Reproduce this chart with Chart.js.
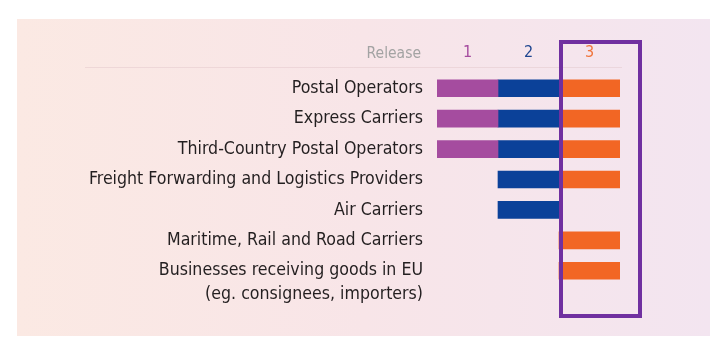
<!DOCTYPE html>
<html>
<head>
<meta charset="utf-8">
<script src="https://cdn.jsdelivr.net/npm/chart.js@4"></script>
<style>
  html, body { margin: 0; padding: 0; background: #fff; }
  #wrap { width: 723px; height: 348px; position: relative; }
</style>
</head>
<body>
<div id="wrap"><canvas id="chart"></canvas></div>
<script>
// categories (the empty first line keeps the first text line level with its bar)
const categories = [
  'Postal Operators',
  'Express Carriers',
  'Third-Country Postal Operators',
  'Freight Forwarding and Logistics Providers',
  'Air Carriers',
  'Maritime, Rail and Road Carriers',
  ['', 'Businesses receiving goods in EU', '(eg. consignees, importers)']
];

// release header labels
const releaseLabels = ['1', '2', '3'];

// 1 = stakeholder is part of that release
const release1 = [1, 1, 1, 0, 0, 0, 0];
const release2 = [1, 1, 1, 1, 1, 0, 0];
const release3 = [1, 1, 1, 1, 0, 1, 1];

const barColors = ['#a54c9f', '#0b4199', '#f26624'];
const headColors = ['#a54c9f', '#1f4690', '#f0743c'];
const FONT = '"Liberation Sans Narrow", "DejaVu Sans Condensed", sans-serif';

// each release occupies one unit on the x axis: release i spans [i, i+1]
const toSpans = (flags, i) => flags.map(v => (v ? [i, i + 1] : null));

const decorPlugin = {
  id: 'decor',
  beforeDraw(chart) {
    const { ctx, chartArea } = chart;
    ctx.save();
    ctx.fillStyle = '#ffffff';
    ctx.fillRect(0, 0, chart.width, chart.height);
    const g = ctx.createLinearGradient(17, 0, 710, 0);
    g.addColorStop(0, '#fbe9e3');
    g.addColorStop(0.5, '#f8e5e8');
    g.addColorStop(1, '#f3e5f0');
    ctx.fillStyle = g;
    ctx.fillRect(17, 19, 693, 317);
    // faint header rule
    ctx.strokeStyle = 'rgba(225, 195, 200, 0.45)';
    ctx.lineWidth = 1;
    ctx.beginPath();
    ctx.moveTo(85, chartArea.top - 5.5);
    ctx.lineTo(chartArea.right + 2, chartArea.top - 5.5);
    ctx.stroke();
    // "Release" header text
    ctx.fillStyle = '#a3a3a3';
    ctx.font = '15.5px ' + FONT;
    ctx.textAlign = 'right';
    ctx.textBaseline = 'middle';
    ctx.fillText('Release', chartArea.left - 16, chartArea.top - 19.5);
    ctx.restore();
  },
  afterDraw(chart) {
    const { ctx, chartArea } = chart;
    const x = chart.scales.x;
    ctx.save();
    ctx.strokeStyle = '#7030a0';
    ctx.lineWidth = 4;
    const left = x.getPixelForValue(2) + 2;
    const right = chartArea.right + 20;
    ctx.strokeRect(left, 42, right - left, 274);
    ctx.restore();
  }
};

new Chart(document.getElementById('chart').getContext('2d'), {
  type: 'bar',
  data: {
    labels: categories,
    datasets: [release1, release2, release3].map((flags, i) => ({
      label: 'Release ' + releaseLabels[i],
      data: toSpans(flags, i),
      backgroundColor: barColors[i],
      borderWidth: 0,
      borderSkipped: false,
      grouped: false,
      barThickness: 17
    }))
  },
  options: {
    responsive: true,
    maintainAspectRatio: false,
    animation: false,
    indexAxis: 'y',
    layout: { padding: { left: 0, right: 103, top: 0, bottom: 62 } },
    plugins: {
      legend: { display: false },
      tooltip: { enabled: false },
      title: { display: false }
    },
    scales: {
      x: {
        type: 'linear',
        position: 'top',
        min: 0,
        max: 3,
        grid: { display: false, drawTicks: false },
        border: { display: false },
        afterBuildTicks: (scale) => {
          scale.ticks = releaseLabels.map((l, i) => ({ value: i + 0.5 }));
        },
        afterFit: (scale) => { scale.height = 73; },
        ticks: {
          padding: 11,
          autoSkip: false,
          maxRotation: 0,
          font: { family: FONT, size: 16 },
          color: (c) => headColors[c.index],
          callback: (value, index) => releaseLabels[index]
        }
      },
      y: {
        grid: { display: false, drawTicks: false },
        border: { display: false },
        afterFit: (scale) => { scale.width = 437; },
        ticks: {
          padding: 14,
          autoSkip: false,
          color: '#231f20',
          font: { family: FONT, size: 17.6, lineHeight: 1.37 }
        }
      }
    }
  },
  plugins: [decorPlugin]
});
</script>
</body>
</html>
